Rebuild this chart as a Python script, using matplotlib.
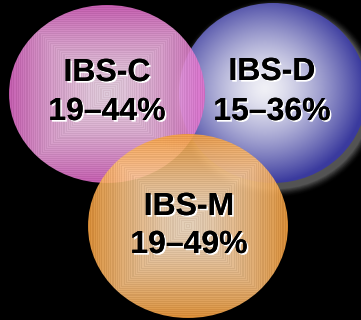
import numpy as np
import matplotlib.pyplot as plt
from matplotlib.patches import Ellipse
import matplotlib.patheffects as pe

labels = ["IBS-C", "IBS-D", "IBS-M"]
low = [19, 15, 19]
high = [44, 36, 49]

W, H = 361, 320
fig = plt.figure(figsize=(W / 100, H / 100), dpi=100, facecolor="black")
ax = fig.add_axes([0, 0, 1, 1])
ax.set_facecolor("black")
ax.set_xlim(0, W)
ax.set_ylim(H, 0)
ax.axis("off")

yy, xx = np.mgrid[0:H, 0:W] + 0.5


def hexrgb(h):
    return np.array([int(h[i:i + 2], 16) / 255 for i in (1, 3, 5)])


def square_grad(cx, cy, w, h, c0, c1, alpha, p):
    d = np.maximum(np.abs(xx - cx) / (w / 2), np.abs(yy - cy) / (h / 2))
    d = np.clip(d, 0, 1)
    # banded look: quantized steps plus a thin line pattern
    q = np.floor(d * 45) / 45
    stripe = np.where((np.floor(d * 90) % 2) == 0, 0.03, -0.03)
    t = q ** p
    rgb = c0[None, None, :] * (1 - t[..., None]) + c1[None, None, :] * t[..., None]
    rgb = np.clip(rgb + stripe[..., None], 0, 1)
    a = np.full(d.shape, alpha)
    return np.dstack([rgb, a])


def radial_grad(cx, cy, w, h, c0, c1, alpha):
    d = np.sqrt(((xx - cx) / (w / 2)) ** 2 + ((yy - cy) / (h / 2)) ** 2)
    t = np.clip(d, 0, 1) ** 1.4
    rgb = c0[None, None, :] * (1 - t[..., None]) + c1[None, None, :] * t[..., None]
    a = np.full(d.shape, alpha)
    return np.dstack([rgb, a])


def draw(img, cx, cy, w, h, z):
    e = Ellipse((cx, cy), w, h, facecolor="none", edgecolor="none")
    ax.add_patch(e)
    im = ax.imshow(img, extent=(0, W, H, 0), interpolation="bilinear", zorder=z)
    im.set_clip_path(e)


# soft grey glow behind the blue ellipse
for k in range(10):
    s = 1 + k * 0.9
    ax.add_patch(Ellipse((273 + 3, 94 + 4), 188 + s * 2, 180 + s * 2,
                         facecolor="#c8c8c8", edgecolor="none",
                         alpha=0.1 * (1 - k / 10), zorder=1))

# IBS-D (blue)
draw(radial_grad(265, 88, 200, 190, hexrgb("#f0f0f6"), hexrgb("#3a3a9e"), 1.0),
     273, 93, 188, 180, 2)
# IBS-C (pink)
draw(square_grad(107, 94, 196, 178, hexrgb("#fce0f4"), hexrgb("#dc66c4"), 0.88, 1.5),
     107, 94, 196, 178, 3)
# IBS-M (orange)
draw(square_grad(188, 226, 200, 184, hexrgb("#fbe2c8"), hexrgb("#f09c3c"), 0.9, 1.4),
     188, 226, 200, 184, 4)

shadow = [pe.withSimplePatchShadow(offset=(1.2, -1.2), shadow_rgbFace="white", alpha=1.0),
          pe.Normal()]
pos = [(107, 73, 112), (272, 72, 112), (189, 207, 245)]
for lab, lo, hi, (x, y1, y2) in zip(labels, low, high, pos):
    for y, s in ((y1, lab), (y2, f"{lo}\u2013{hi}%")):
        ax.text(x, y, s, ha="center", va="center", fontsize=23, fontweight="bold",
                family="Liberation Sans", color="black", path_effects=shadow, zorder=10)

fig.savefig("out.png", dpi=100, facecolor="black")
